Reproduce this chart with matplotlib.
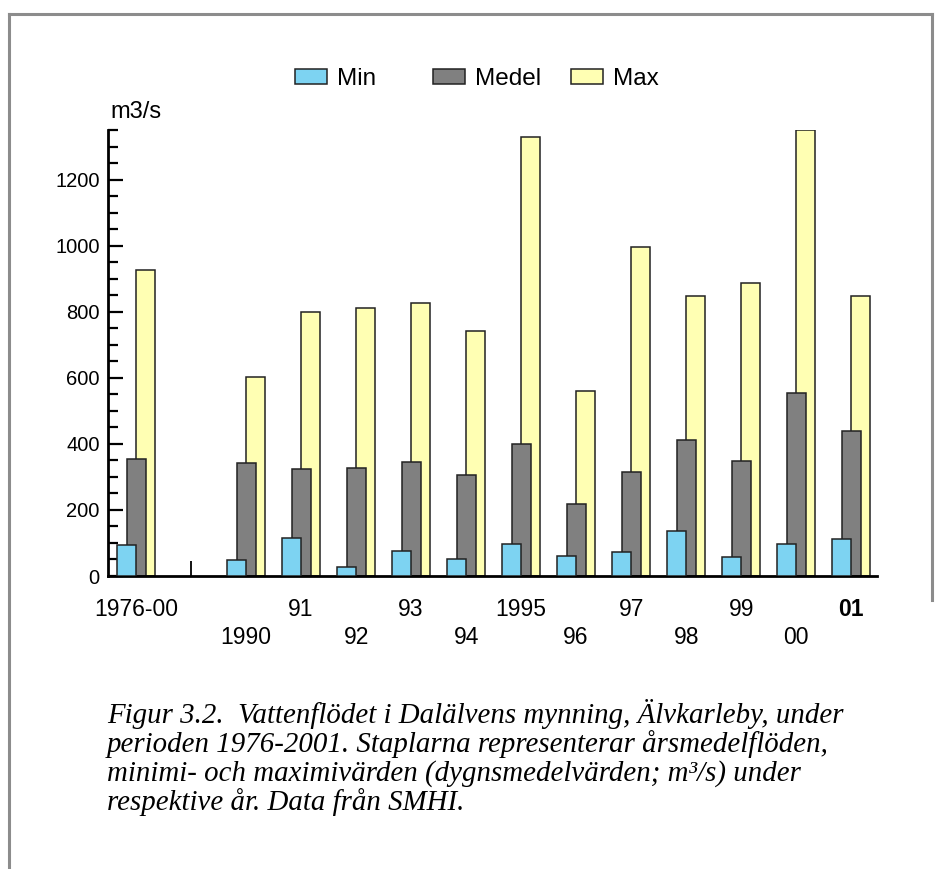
import numpy as np
import matplotlib
matplotlib.use("Agg")
import matplotlib.pyplot as plt
from matplotlib.lines import Line2D
from matplotlib.ticker import MultipleLocator

# data (m3/s)
years = ["1976-00", "", "1990", "91", "92", "93", "94", "1995",
         "96", "97", "98", "99", "00", "01"]
min_flow = [95, np.nan, 47, 114, 27, 76, 50, 97, 60, 72, 137, 56, 96, 112]
mean_flow = [355, np.nan, 342, 324, 328, 344, 307, 401, 218, 316, 411, 348, 553, 439]
max_flow = [927, np.nan, 601, 800, 810, 826, 741, 1329, 560, 997, 849, 888, 1350, 847]

upper_row = ["1976-00", "91", "93", "1995", "97", "99", "01"]

c_min = "#7dd3f2"
c_mean = "#808080"
c_max = "#ffffb3"

plt.rcParams["font.family"] = ["Liberation Sans", "DejaVu Sans"]

W, H = 938, 869
fig = plt.figure(figsize=(W / 100, H / 100), dpi=100)
fig.patch.set_facecolor("white")

# gray frame: top, left down to the bottom, right stops above the labels
fx0, fx1, fy0 = 8.5 / W, 932 / W, 1 - 13.5 / H
for xs, ys in [([fx0, fx1], [fy0, fy0]),
               ([fx0, fx0], [fy0, 0]),
               ([fx1, fx1], [fy0, 1 - 600 / H])]:
    fig.add_artist(Line2D(xs, ys, transform=fig.transFigure,
                          color="#8c8c8c", lw=2.2))

ax = fig.add_axes([108 / W, 1 - 576 / H, (877 - 108) / W, (576 - 130) / H])

x = np.arange(len(years))
bw = 0.345
off = 0.172
b_max = ax.bar(x + off, max_flow, bw, color=c_max, edgecolor="#222222", lw=1.1, zorder=1)
b_mean = ax.bar(x, mean_flow, bw, color=c_mean, edgecolor="#222222", lw=1.1, zorder=2)
b_min = ax.bar(x - off, min_flow, bw, color=c_min, edgecolor="#222222", lw=1.1, zorder=3)

ax.set_xlim(-0.51, 13.47)
ax.set_ylim(0, 1350)

for s in ["top", "right"]:
    ax.spines[s].set_visible(False)
ax.spines["left"].set_linewidth(2)
ax.spines["bottom"].set_linewidth(2)

ax.yaxis.set_major_locator(MultipleLocator(200))
ax.yaxis.set_minor_locator(MultipleLocator(50))
ax.tick_params(axis="y", which="major", direction="in", length=11, width=1.6,
               labelsize=14.5, pad=6)
ax.tick_params(axis="y", which="minor", direction="in", length=7, width=1.6)

# x axis: only the small separator mark after 1976-00
ax.set_xticks([1])
ax.set_xticklabels([""])
ax.tick_params(axis="x", direction="in", length=11, width=1.3)

xt = ax.get_xaxis_transform()
for i, name in enumerate(years):
    if not name:
        continue
    ypos = -0.075 if name in upper_row else -0.137
    ax.text(i, ypos, name, transform=xt, ha="center", va="center",
            fontsize=16.5, fontweight="bold" if name == "01" else "normal")

fig.text(110 / W, 1 - 112 / H, "m3/s", fontsize=17, ha="left", va="center")

# legend, one entry at a time to keep the original spacing
for handle, label, px in [(b_min, "Min", 295), (b_mean, "Medel", 433), (b_max, "Max", 571)]:
    fig.legend([handle], [label], loc="center left",
               bbox_to_anchor=(px / W, 1 - 79 / H), frameon=False,
               borderpad=0, borderaxespad=0,
               fontsize=17.5, handlelength=1.3, handleheight=0.57, handletextpad=0.42)

caption = [
    "Figur 3.2.  Vattenflödet i Dalälvens mynning, Älvkarleby, under",
    "perioden 1976-2001. Staplarna representerar årsmedelflöden,",
    "minimi- och maximivärden (dygnsmedelvärden; m³/s) under",
    "respektive år. Data från SMHI.",
]
for k, line in enumerate(caption):
    fig.text(107 / W, 1 - (723 + 29 * k) / H, line, family="Liberation Serif",
             style="italic", fontsize=20.8, ha="left", va="baseline")

fig.savefig("out.png", dpi=100)
